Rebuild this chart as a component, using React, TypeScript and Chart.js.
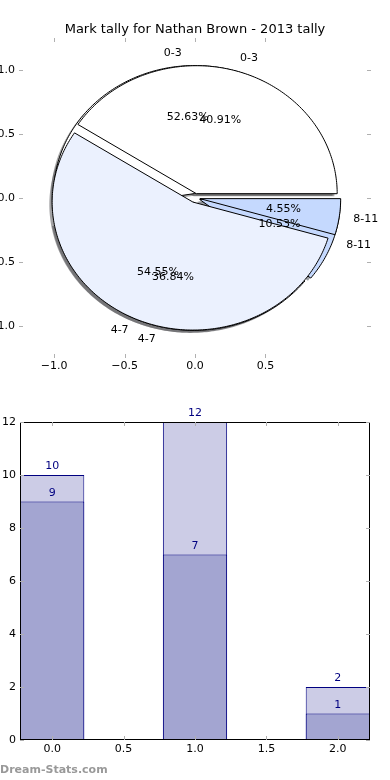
import React, { useEffect, useRef } from 'react';
import { Chart, registerables } from 'chart.js';

Chart.register(...registerables);

const TITLE = 'Mark tally for Nathan Brown - 2013 tally';
const WATERMARK = 'Dream-Stats.com';

// Pie data (two overlaid pies)
const pieCategories = ['0-3', '4-7', '8-11'];
const pieFirstCounts = [10, 7, 2];
const pieSecondCounts = [9, 12, 1];
const pieColors = ['#ffffff', '#ebf1fe', '#c5d9fe'];
const pieXTicks = [-1, -0.5, 0, 0.5];
const pieYTicks = [-1, -0.5, 0, 0.5, 1];

// Bar data (overlapping bars)
const barPositions = [0, 1, 2];
const barBackValues = [10, 12, 2];
const barFrontValues = [9, 7, 1];
const barXTicks = [0, 0.5, 1, 1.5, 2];
const barYTicks = [0, 2, 4, 6, 8, 10, 12];

const FONT = '"DejaVu Sans", "Liberation Sans", sans-serif';
const EXPLODE = 0.035;
const SHADOW = -0.02;

const fmtTick = (v: number) => (v < 0 ? '\u2212' : '') + Math.abs(v).toFixed(1);

function drawInwardTicks(chart: any, xs: number[], ys: number[]) {
  const { ctx, chartArea: a, scales } = chart;
  const x = scales.x;
  const y = scales.y;
  ctx.save();
  ctx.strokeStyle = '#b0b0b0';
  ctx.lineWidth = 1;
  ctx.beginPath();
  xs.forEach((v) => {
    const p = Math.round(x.getPixelForValue(v)) + 0.5;
    ctx.moveTo(p, a.top);
    ctx.lineTo(p, a.top + 4);
    ctx.moveTo(p, a.bottom);
    ctx.lineTo(p, a.bottom - 4);
  });
  ys.forEach((v) => {
    const p = Math.round(y.getPixelForValue(v)) + 0.5;
    ctx.moveTo(a.left, p);
    ctx.lineTo(a.left + 4, p);
    ctx.moveTo(a.right, p);
    ctx.lineTo(a.right - 4, p);
  });
  ctx.stroke();
  ctx.restore();
}

// y-axis labels drawn right-aligned against the axis (may run off the left page edge)
function drawYLabels(chart: any, ys: number[], fmt: (v: number) => string) {
  const { ctx, chartArea: a, scales } = chart;
  ctx.save();
  ctx.fillStyle = '#000';
  ctx.font = `11px ${FONT}`;
  ctx.textAlign = 'right';
  ctx.textBaseline = 'middle';
  ys.forEach((v) => ctx.fillText(fmt(v), a.left - 4, scales.y.getPixelForValue(v)));
  ctx.restore();
}

function shadowColor(hex: string) {
  const r = parseInt(hex.slice(1, 3), 16);
  const g = parseInt(hex.slice(3, 5), 16);
  const b = parseInt(hex.slice(5, 7), 16);
  return `rgba(${Math.round(r * 0.3)},${Math.round(g * 0.3)},${Math.round(b * 0.3)},0.5)`;
}

const pieDecor = {
  id: 'pieDecor',
  afterDraw(chart: any) {
    const { ctx, chartArea: a, scales } = chart;
    const x = scales.x;
    const y = scales.y;
    const px = (v: number) => x.getPixelForValue(v);
    const py = (v: number) => y.getPixelForValue(v);

    const pies = [pieFirstCounts, pieSecondCounts].map((counts) => {
      const total = counts.reduce((s, c) => s + c, 0);
      let start = 0;
      return counts.map((c, i) => {
        const frac = c / total;
        const t1 = start;
        const t2 = start + frac * Math.PI * 2;
        start = t2;
        const tm = (t1 + t2) / 2;
        return { i, frac, t1, t2, tm, cx: EXPLODE * Math.cos(tm), cy: EXPLODE * Math.sin(tm) };
      });
    });

    const path = (w: any, dx: number, dy: number) => {
      ctx.beginPath();
      ctx.moveTo(px(w.cx + dx), py(w.cy + dy));
      const n = Math.max(4, Math.ceil(((w.t2 - w.t1) * 180) / Math.PI));
      for (let k = 0; k <= n; k++) {
        const t = w.t1 + ((w.t2 - w.t1) * k) / n;
        ctx.lineTo(px(w.cx + dx + Math.cos(t)), py(w.cy + dy + Math.sin(t)));
      }
      ctx.closePath();
    };

    ctx.save();
    pies.forEach((p) =>
      p.forEach((w) => {
        path(w, SHADOW, SHADOW);
        ctx.fillStyle = shadowColor(pieColors[w.i]);
        ctx.fill();
      })
    );
    pies.forEach((p) =>
      p.forEach((w) => {
        path(w, 0, 0);
        ctx.fillStyle = pieColors[w.i];
        ctx.fill();
        ctx.lineWidth = 1;
        ctx.strokeStyle = '#000';
        ctx.stroke();
      })
    );
    ctx.fillStyle = '#000';
    ctx.font = `11px ${FONT}`;
    ctx.textBaseline = 'middle';
    pies.forEach((p) =>
      p.forEach((w) => {
        const lx = w.cx + 1.1 * Math.cos(w.tm);
        const ly = w.cy + 1.1 * Math.sin(w.tm);
        ctx.textAlign = lx > 0 ? 'left' : 'right';
        ctx.fillText(pieCategories[w.i], px(lx), py(ly));
        ctx.textAlign = 'center';
        ctx.fillText(
          (w.frac * 100).toFixed(2) + '%',
          px(w.cx + 0.6 * Math.cos(w.tm)),
          py(w.cy + 0.6 * Math.sin(w.tm))
        );
      })
    );
    ctx.font = `13px ${FONT}`;
    ctx.textAlign = 'center';
    ctx.fillText(TITLE, (a.left + a.right) / 2, a.top - 8);
    ctx.restore();

    drawInwardTicks(chart, pieXTicks, pieYTicks);
    drawYLabels(chart, pieYTicks, fmtTick);
  },
};

const barDecor = {
  id: 'barDecor',
  afterDraw(chart: any) {
    const { ctx, chartArea: a } = chart;
    ctx.save();
    ctx.fillStyle = '#000080';
    ctx.font = `11px ${FONT}`;
    ctx.textAlign = 'center';
    ctx.textBaseline = 'bottom';
    chart.data.datasets.forEach((ds: any, di: number) => {
      const meta = chart.getDatasetMeta(di);
      meta.data.forEach((el: any, k: number) => {
        ctx.fillText(String(ds.data[k].y), el.x, el.y - 3);
      });
    });
    ctx.strokeStyle = '#000';
    ctx.lineWidth = 1;
    ctx.strokeRect(a.left + 0.5, a.top + 0.5, a.right - a.left - 1, a.bottom - a.top - 1);
    ctx.fillStyle = '#999';
    ctx.font = `bold 11px ${FONT}`;
    ctx.textAlign = 'left';
    ctx.textBaseline = 'middle';
    ctx.fillText(WATERMARK, 0, a.bottom + 30);
    ctx.restore();
    drawInwardTicks(chart, barXTicks, barYTicks);
    drawYLabels(chart, barYTicks, (v) => String(v));
  },
};

const tickFont = { family: FONT, size: 11 };

export default function App() {
  const pieRef = useRef<HTMLCanvasElement>(null);
  const barRef = useRef<HTMLCanvasElement>(null);

  useEffect(() => {
    document.body.style.margin = '0';
    const pie = new Chart(pieRef.current as HTMLCanvasElement, {
      type: 'scatter',
      data: { datasets: [{ data: [], pointRadius: 0 }] },
      options: {
        responsive: false,
        animation: false,
        devicePixelRatio: 1,
        layout: { padding: { top: 38, right: 19, left: 19, bottom: 0 } },
        plugins: { legend: { display: false }, tooltip: { enabled: false } },
        scales: {
          x: {
            type: 'linear',
            min: -1.25,
            max: 1.25,
            grid: { display: false, drawTicks: false },
            border: { display: false },
            afterBuildTicks: (s: any) => {
              s.ticks = pieXTicks.map((v) => ({ value: v }));
            },
            afterFit: (s: any) => {
              s.height = 22;
            },
            ticks: { padding: 2, color: '#000', font: tickFont, callback: (v: any) => fmtTick(Number(v)) },
          },
          y: { type: 'linear', min: -1.25, max: 1.25, display: false },
        },
      } as any,
      plugins: [pieDecor],
    });

    const bar = new Chart(barRef.current as HTMLCanvasElement, {
      type: 'bar',
      data: {
        datasets: [
          {
            label: 'front',
            data: barPositions.map((p, i) => ({ x: p, y: barFrontValues[i] })),
            backgroundColor: '#a3a5d1',
            borderColor: '#000080',
            borderWidth: 1,
            borderSkipped: false,
            grouped: false,
            barPercentage: 0.9,
            categoryPercentage: 1,
          },
          {
            label: 'back',
            data: barPositions.map((p, i) => ({ x: p, y: barBackValues[i] })),
            backgroundColor: '#ccccE6',
            borderColor: '#000080',
            borderWidth: 1,
            borderSkipped: false,
            grouped: false,
            barPercentage: 0.9,
            categoryPercentage: 1,
          },
        ],
      } as any,
      options: {
        responsive: false,
        animation: false,
        devicePixelRatio: 1,
        layout: { padding: { top: 32, right: 20, left: 20, bottom: 0 } },
        plugins: { legend: { display: false }, tooltip: { enabled: false } },
        scales: {
          x: {
            type: 'linear',
            min: -0.225,
            max: 2.225,
            offset: false,
            grid: { display: false, drawTicks: false, offset: false },
            border: { display: false },
            afterBuildTicks: (s: any) => {
              s.ticks = barXTicks.map((v) => ({ value: v }));
            },
            afterFit: (s: any) => {
              s.height = 40;
            },
            ticks: { padding: 3, color: '#000', font: tickFont, callback: (v: any) => Number(v).toFixed(1) },
          },
          y: { type: 'linear', min: 0, max: 12, display: false },
        },
      } as any,
      plugins: [barDecor],
    });

    return () => {
      pie.destroy();
      bar.destroy();
    };
  }, []);

  return (
    <div style={{ position: 'relative', width: 390, height: 780, background: '#fff' }}>
      <canvas ref={pieRef} width={390} height={380} style={{ position: 'absolute', left: 0, top: 0, display: 'block' }} />
      <canvas ref={barRef} width={390} height={390} style={{ position: 'absolute', left: 0, top: 390, display: 'block' }} />
    </div>
  );
}
